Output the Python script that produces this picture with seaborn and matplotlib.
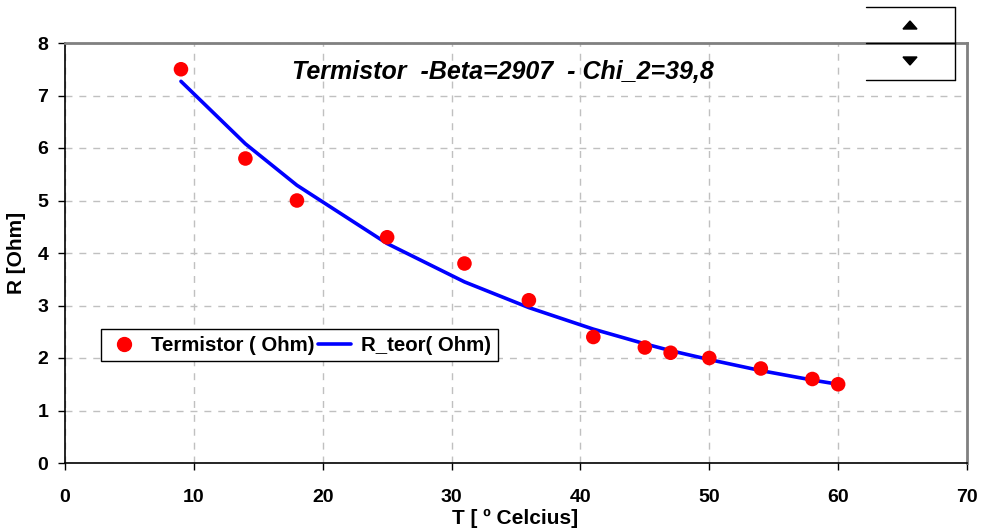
import matplotlib
matplotlib.use("Agg")
import matplotlib.pyplot as plt
import seaborn as sns
import pandas as pd
from matplotlib.lines import Line2D
from matplotlib.patches import Polygon

T_meas = [9, 14, 18, 25, 31, 36, 41, 45, 47, 50, 54, 58, 60]
R_meas = [7.5, 5.8, 5.0, 4.3, 3.8, 3.1, 2.4, 2.2, 2.1, 2.0, 1.8, 1.6, 1.5]
R_teor = [7.27, 6.08, 5.29, 4.18, 3.45, 2.96, 2.55, 2.27, 2.14, 1.97, 1.76, 1.58, 1.50]
x_ticks = [0, 10, 20, 30, 40, 50, 60, 70]
y_ticks = [0, 1, 2, 3, 4, 5, 6, 7, 8]

sns.set_style("white")
plt.rcParams['font.family'] = ['Liberation Sans', 'DejaVu Sans']
plt.rcParams.update({"text.color": "black", "axes.labelcolor": "black",
                     "xtick.color": "black", "ytick.color": "black"})

df = pd.DataFrame({"T": T_meas, "R": R_meas, "Rt": R_teor})

fig = plt.figure(figsize=(9.83, 5.32), dpi=100)
ax = fig.add_axes([65/983, 1-463/532, 902/983, 420/532])

sns.lineplot(data=df, x="T", y="Rt", ax=ax, color="#0000FF", linewidth=2.6, zorder=3)
sns.scatterplot(data=df, x="T", y="R", ax=ax, color="#FF0000", s=110, edgecolor="none", zorder=4)

ax.set_xlim(0, 70)
ax.set_ylim(0, 8)
ax.set_xticks(x_ticks)
ax.set_yticks(y_ticks)
ax.set_xticklabels([str(v) for v in x_ticks], fontsize=14, fontweight="bold")
ax.set_yticklabels([str(v) for v in y_ticks], fontsize=14, fontweight="bold")
ax.tick_params(axis="both", direction="out", length=5, width=1, colors="black", bottom=True, left=True)
ax.tick_params(axis="x", pad=14)
ax.tick_params(axis="y", pad=7)
ax.grid(True, color="#C0C0C0", linestyle=(0, (5, 5)), linewidth=1)
ax.set_axisbelow(True)

for s in ["left", "bottom"]:
    ax.spines[s].set_color("black")
    ax.spines[s].set_linewidth(1.2)
for s in ["top", "right"]:
    ax.spines[s].set_color("#808080")
    ax.spines[s].set_linewidth(2)

ax.set_xlabel("T [ º Celcius]", fontsize=15, fontweight="bold", color="black")
ax.set_ylabel("R [Ohm]", fontsize=15, fontweight="bold", color="black")
ax.xaxis.set_label_coords((515-65)/902, -(518-463)/420)
ax.yaxis.set_label_coords(-(65-17)/902, 0.5)
ax.xaxis.label.set_va("center")
ax.yaxis.label.set_va("center")

ax.text(0.4856, 0.931, "Termistor  -Beta=2907  - Chi_2=39,8", transform=ax.transAxes,
        ha="center", va="center", fontsize=18, fontweight="bold", fontstyle="italic", color="black")

handles = [Line2D([], [], marker="o", color="#FF0000", linestyle="none", markersize=10),
           Line2D([], [], color="#0000FF", linewidth=2.6)]
leg = ax.legend(handles, ["Termistor ( Ohm)", "R_teor( Ohm)"], ncol=2,
                loc="upper left", bbox_to_anchor=((101-65)/902, (463-329)/420),
                frameon=True, fancybox=False, edgecolor="black", framealpha=1,
                prop={"weight": "bold", "size": 14.7}, handlelength=1.6, handletextpad=0.5,
                columnspacing=0.2, borderpad=0.33, borderaxespad=0)
leg.get_frame().set_linewidth(1)
for t in leg.get_texts():
    t.set_color("black")

# spinner widget at top right
def fx(px):
    return px/983
def fy(py):
    return 1-py/532
for y in [7, 43, 80]:
    fig.add_artist(Line2D([fx(866), fx(955)], [fy(y), fy(y)], color="black", lw=1))
fig.add_artist(Line2D([fx(955), fx(955)], [fy(7), fy(80)], color="black", lw=1))
fig.add_artist(Polygon([[fx(903), fy(29)], [fx(917), fy(29)], [fx(910), fy(21)]], closed=True,
                       color="black", transform=fig.transFigure))
fig.add_artist(Polygon([[fx(903), fy(57)], [fx(917), fy(57)], [fx(910), fy(65)]], closed=True,
                       color="black", transform=fig.transFigure))

fig.savefig("out.png", dpi=100)
